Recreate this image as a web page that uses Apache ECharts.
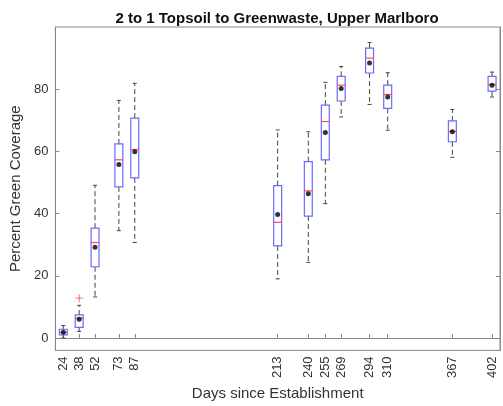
<!DOCTYPE html>
<html>
<head>
<meta charset="utf-8">
<script src="https://cdn.jsdelivr.net/npm/echarts@6/dist/echarts.min.js"></script>
<style>
  html, body { margin: 0; padding: 0; background: #fff; }
  #main { width: 503px; height: 406px; }
</style>
</head>
<body>
<div id="main"></div>
<script>
// ---------------- data ----------------
const days = [24, 38, 52, 73, 87, 213, 240, 255, 269, 294, 310, 367, 402];
const lowWhisker = [0, 2.1, 13.2, 34.5, 30.7, 19.0, 24.3, 43.2, 71.1, 75.1, 66.8, 58.1, 77.5];
const q1 = [1.0, 3.4, 22.9, 48.6, 51.5, 29.6, 39.2, 57.3, 76.2, 85.2, 73.8, 63.1, 79.4];
const medians = [1.8, 6.4, 30.7, 57.3, 60.6, 37.2, 47.3, 69.6, 81.3, 90.0, 78.3, 66.4, 81.5];
const q3 = [2.8, 7.4, 35.3, 62.4, 70.7, 49.0, 56.7, 74.9, 84.1, 93.2, 81.3, 69.8, 84.1];
const highWhisker = [4.0, 10.5, 49.1, 76.4, 81.9, 66.9, 66.3, 82.2, 87.3, 95.0, 85.3, 73.5, 85.5];
const means = [1.8, 6.0, 29.2, 55.8, 59.9, 39.7, 46.4, 66.1, 80.2, 88.4, 77.5, 66.3, 81.3];
const outliers = [[38, 12.8]];
const yTicks = [0, 20, 40, 60, 80];

const boxData = days.map((d, i) => [d, lowWhisker[i], q1[i], medians[i], q3[i], highWhisker[i]]);
const meanData = days.map((d, i) => [d, means[i]]);

// ---------------- chart ----------------
function boxChart() {
  let myChart = echarts.init(document.querySelector('#main'));
  const font = 'Liberation Sans, Arial, sans-serif';

  // one box (whiskers, caps, box, median) per day
  function renderBox(params, api) {
    const x = api.value(0);
    const pLo = api.coord([x, api.value(1)]);
    const pQ1 = api.coord([x, api.value(2)]);
    const pMed = api.coord([x, api.value(3)]);
    const pQ3 = api.coord([x, api.value(4)]);
    const pHi = api.coord([x, api.value(5)]);
    const half = api.size([7, 0])[0] / 2;
    const cap = half / 2;
    const cx = pMed[0];
    const dash = { stroke: '#444', lineWidth: 1, lineDash: [5, 3] };
    const solid = { stroke: '#444', lineWidth: 1 };
    return {
      type: 'group',
      children: [
        { type: 'line', shape: { x1: cx, y1: pQ3[1], x2: cx, y2: pHi[1] }, style: dash },
        { type: 'line', shape: { x1: cx, y1: pQ1[1], x2: cx, y2: pLo[1] }, style: dash },
        { type: 'line', shape: { x1: cx - cap, y1: pHi[1], x2: cx + cap, y2: pHi[1] }, style: solid },
        { type: 'line', shape: { x1: cx - cap, y1: pLo[1], x2: cx + cap, y2: pLo[1] }, style: solid },
        {
          type: 'rect',
          shape: { x: cx - half, y: pQ3[1], width: half * 2, height: pQ1[1] - pQ3[1] },
          style: { fill: 'none', stroke: '#6a6aff', lineWidth: 1.2 }
        },
        { type: 'line', shape: { x1: cx - half, y1: pMed[1], x2: cx + half, y2: pMed[1] }, style: { stroke: '#ff4a4a', lineWidth: 1.2 } }
      ]
    };
  }

  let option = {
    animation: false,
    title: {
      text: '2 to 1 Topsoil to Greenwaste, Upper Marlboro',
      left: 272,
      textAlign: 'center',
      top: 6,
      textStyle: { fontSize: 15, fontWeight: 'bold', color: '#111', fontFamily: font }
    },
    grid: { left: 54, right: 3, top: 27, bottom: 54, show: true, borderColor: '#888', borderWidth: 1 },
    xAxis: {
      type: 'value',
      min: 17,
      max: 409,
      name: 'Days since Establishment',
      nameLocation: 'middle',
      nameGap: 34,
      nameTextStyle: { fontSize: 15, color: '#333', fontFamily: font },
      splitLine: { show: false },
      axisLine: { show: true, lineStyle: { color: '#888' } },
      axisTick: { show: true, inside: true, length: 4, customValues: days, lineStyle: { color: '#888' } },
      axisLabel: { rotate: 90, customValues: days, fontSize: 13, color: '#333', fontFamily: font, margin: 6 }
    },
    yAxis: [
      {
        type: 'value',
        min: -4,
        max: 100,
        name: 'Percent Green Coverage',
        nameLocation: 'middle',
        nameGap: 26,
        nameTextStyle: { fontSize: 15, color: '#333', fontFamily: font },
        splitLine: { show: false },
        axisLine: { show: true, lineStyle: { color: '#888' } },
        axisTick: { show: true, inside: true, length: 4, customValues: yTicks, lineStyle: { color: '#888' } },
        axisLabel: { customValues: yTicks, fontSize: 13, color: '#333', fontFamily: font, margin: 7 }
      },
      {
        type: 'value',
        min: -4,
        max: 100,
        position: 'right',
        splitLine: { show: false },
        axisLine: { show: true, lineStyle: { color: '#888' } },
        axisTick: { show: true, inside: true, length: 4, customValues: yTicks, lineStyle: { color: '#888' } },
        axisLabel: { show: false }
      }
    ],
    series: [
      {
        type: 'custom',
        name: 'boxes',
        renderItem: renderBox,
        encode: { x: 0, y: [1, 2, 3, 4, 5] },
        data: boxData,
        z: 2
      },
      {
        type: 'scatter',
        name: 'mean',
        data: meanData,
        symbol: 'circle',
        symbolSize: 5,
        itemStyle: { color: '#000' },
        z: 3
      },
      {
        type: 'scatter',
        name: 'outliers',
        data: outliers,
        symbol: 'path://M4.5,0H5.5V10H4.5Z M0,4.5H10V5.5H0Z',
        symbolSize: 8,
        itemStyle: { color: '#ff2020' },
        z: 3
      }
    ]
  };
  myChart.setOption(option);
}
boxChart();
</script>
</body>
</html>
